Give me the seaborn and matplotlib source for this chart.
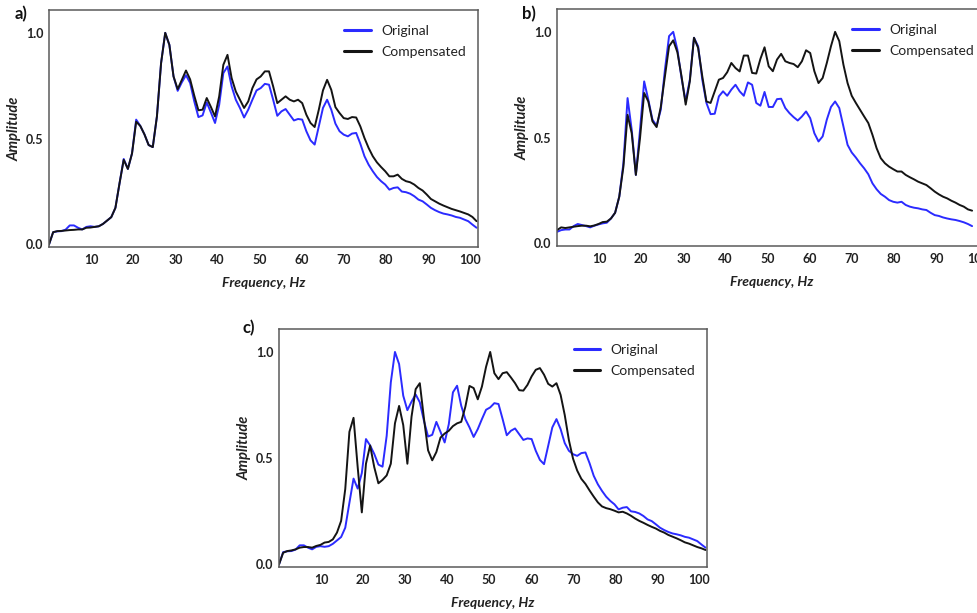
import numpy as np
import pandas as pd
import matplotlib
matplotlib.use("Agg")
import matplotlib.pyplot as plt
import seaborn as sns

# Spacing between spectrum bins, Hz
FREQ_STEP = 0.985

# Panel a: original and compensated amplitude spectra
orig_a = [0.0, 0.058, 0.062, 0.063, 0.07, 0.09, 0.09, 0.079, 0.071, 0.083,
          0.086, 0.083, 0.086, 0.097, 0.113, 0.129, 0.173, 0.29, 0.404, 0.357,
          0.43, 0.59, 0.56, 0.52, 0.47, 0.46, 0.605, 0.857, 1.0, 0.943,
          0.794, 0.726, 0.766, 0.80, 0.763, 0.676, 0.602, 0.61, 0.671, 0.624,
          0.574, 0.66, 0.81, 0.841, 0.747, 0.684, 0.645, 0.60, 0.637, 0.684,
          0.728, 0.739, 0.759, 0.755, 0.684, 0.608, 0.629, 0.64, 0.613, 0.586,
          0.593, 0.59, 0.535, 0.492, 0.472, 0.558, 0.645, 0.684, 0.637, 0.571,
          0.535, 0.519, 0.511, 0.524, 0.527, 0.476, 0.417, 0.377, 0.346, 0.319,
          0.299, 0.283, 0.259, 0.267, 0.27, 0.25, 0.247, 0.24, 0.228, 0.212,
          0.204, 0.189, 0.173, 0.162, 0.153, 0.146, 0.142, 0.137, 0.13, 0.126,
          0.118, 0.11, 0.094, 0.079]
comp_a = [0.0, 0.058, 0.063, 0.064, 0.066, 0.068, 0.069, 0.071, 0.071, 0.079,
          0.08, 0.083, 0.086, 0.097, 0.113, 0.129, 0.173, 0.29, 0.40, 0.357,
          0.43, 0.58, 0.56, 0.52, 0.47, 0.46, 0.605, 0.857, 1.0, 0.943,
          0.794, 0.734, 0.778, 0.822, 0.78, 0.703, 0.634, 0.637, 0.692, 0.65,
          0.605, 0.70, 0.849, 0.896, 0.786, 0.723, 0.684, 0.645, 0.676, 0.739,
          0.78, 0.794, 0.818, 0.818, 0.747, 0.668, 0.684, 0.70, 0.684, 0.676,
          0.684, 0.668, 0.613, 0.574, 0.555, 0.637, 0.728, 0.778, 0.731, 0.649,
          0.621, 0.597, 0.593, 0.602, 0.60, 0.558, 0.503, 0.456, 0.417, 0.388,
          0.366, 0.346, 0.322, 0.322, 0.33, 0.31, 0.299, 0.294, 0.283, 0.267,
          0.255, 0.236, 0.215, 0.204, 0.193, 0.184, 0.176, 0.168, 0.162, 0.156,
          0.149, 0.142, 0.13, 0.11]

# Panel b
orig_b = [0.055, 0.063, 0.066, 0.066, 0.082, 0.092, 0.087, 0.082, 0.076, 0.084,
          0.09, 0.095, 0.098, 0.118, 0.145, 0.221, 0.379, 0.687, 0.537, 0.324,
          0.537, 0.766, 0.679, 0.585, 0.556, 0.632, 0.821, 0.98, 1.0, 0.916,
          0.782, 0.671, 0.774, 0.972, 0.932, 0.774, 0.664, 0.611, 0.613, 0.695,
          0.719, 0.698, 0.727, 0.75, 0.719, 0.698, 0.761, 0.75, 0.664, 0.651,
          0.716, 0.645, 0.645, 0.682, 0.684, 0.64, 0.616, 0.597, 0.581, 0.60,
          0.624, 0.592, 0.521, 0.482, 0.506, 0.585, 0.645, 0.671, 0.64, 0.553,
          0.466, 0.43, 0.406, 0.379, 0.355, 0.327, 0.284, 0.256, 0.234, 0.221,
          0.205, 0.197, 0.193, 0.197, 0.182, 0.174, 0.169, 0.166, 0.161, 0.158,
          0.145, 0.134, 0.13, 0.123, 0.118, 0.114, 0.111, 0.106, 0.10, 0.092,
          0.082]
comp_b = [0.063, 0.076, 0.073, 0.076, 0.079, 0.082, 0.084, 0.084, 0.081, 0.085,
          0.092, 0.101, 0.103, 0.118, 0.145, 0.221, 0.363, 0.608, 0.521, 0.324,
          0.498, 0.711, 0.671, 0.577, 0.55, 0.645, 0.79, 0.932, 0.96, 0.904,
          0.79, 0.656, 0.766, 0.972, 0.924, 0.79, 0.671, 0.664, 0.719, 0.774,
          0.782, 0.809, 0.853, 0.829, 0.813, 0.888, 0.888, 0.806, 0.803, 0.872,
          0.927, 0.837, 0.814, 0.869, 0.896, 0.861, 0.853, 0.848, 0.833, 0.861,
          0.913, 0.90, 0.814, 0.758, 0.782, 0.853, 0.932, 1.0, 0.956, 0.845,
          0.758, 0.698, 0.664, 0.632, 0.60, 0.569, 0.513, 0.45, 0.403, 0.379,
          0.363, 0.351, 0.34, 0.34, 0.324, 0.313, 0.303, 0.292, 0.284, 0.276,
          0.261, 0.245, 0.232, 0.221, 0.213, 0.202, 0.193, 0.182, 0.174, 0.161,
          0.155]

# Panel c: same original record, different compensation
orig_c = orig_a
comp_c = [0.0, 0.055, 0.063, 0.066, 0.071, 0.079, 0.082, 0.082, 0.079, 0.087,
          0.092, 0.103, 0.106, 0.118, 0.15, 0.205, 0.355, 0.624, 0.69, 0.458,
          0.245, 0.474, 0.56, 0.458, 0.382, 0.398, 0.419, 0.474, 0.664, 0.746,
          0.656, 0.474, 0.695, 0.825, 0.853, 0.687, 0.537, 0.49, 0.529, 0.597,
          0.616, 0.629, 0.651, 0.664, 0.671, 0.742, 0.84, 0.83, 0.777, 0.837,
          0.93, 1.0, 0.90, 0.872, 0.90, 0.905, 0.88, 0.853, 0.82, 0.818,
          0.845, 0.885, 0.916, 0.924, 0.893, 0.85, 0.837, 0.853, 0.798, 0.703,
          0.585, 0.498, 0.442, 0.403, 0.379, 0.348, 0.319, 0.292, 0.273, 0.265,
          0.26, 0.253, 0.245, 0.248, 0.24, 0.229, 0.216, 0.205, 0.196, 0.186,
          0.177, 0.169, 0.158, 0.15, 0.139, 0.131, 0.123, 0.114, 0.104, 0.098,
          0.09, 0.082, 0.076, 0.068]

series_labels = ["Original", "Compensated"]
panel_labels = ["a)", "b)", "c)"]
x_ticks = [10, 20, 30, 40, 50, 60, 70, 80, 90, 100]
y_ticks = [0.0, 0.5, 1.0]
y_tick_labels = ["0.0", "0.5", "1.0"]

sns.set_theme(style="white")
plt.rcParams["font.family"] = ["Lato", "DejaVu Sans"]

palette = {"Original": "#2b2bff", "Compensated": "#141414"}


def spectrum_frame(original, compensated):
    n = len(original)
    freq = np.arange(n) * FREQ_STEP
    return pd.DataFrame({
        "Frequency": np.concatenate([freq, freq]),
        "Amplitude": np.concatenate([original, compensated]),
        "Trace": [series_labels[0]] * n + [series_labels[1]] * n,
    })


W, H = 977, 613
fig = plt.figure(figsize=(W / 100, H / 100), dpi=100)
fig.patch.set_facecolor("white")


def px_axes(left, top, right, bottom):
    return fig.add_axes([left / W, 1 - bottom / H, (right - left) / W, (bottom - top) / H])


panels = [
    (orig_a, comp_a, (49, 10, 478, 247), (21.5, 14)),
    (orig_b, comp_b, (557, 9, 986, 246), (528.5, 14)),
    (orig_c, comp_c, (279, 329, 707, 567), (249, 328)),
]

for (orig, comp, box, lab_pos), tag in zip(panels, panel_labels):
    ax = px_axes(*box)
    df = spectrum_frame(orig, comp)
    sns.lineplot(data=df, x="Frequency", y="Amplitude", hue="Trace",
                 hue_order=series_labels, palette=palette, estimator=None,
                 linewidth=1.4, ax=ax)
    ax.set_xlim(0, 101.8)
    ax.set_ylim(-0.012, 1.108)
    ax.set_xticks(x_ticks, [str(t) for t in x_ticks], fontweight="bold")
    ax.set_yticks(y_ticks, y_tick_labels, fontweight="bold")
    ax.tick_params(axis="both", length=0, labelsize=9, colors="#222222")
    ax.tick_params(axis="x", pad=5)
    ax.tick_params(axis="y", pad=4)
    ax.set_xlabel("Frequency, Hz", fontstyle="italic", fontweight="bold",
                  fontsize=10, labelpad=8, color="#222222")
    ax.set_ylabel("Amplitude", fontstyle="italic", fontweight="bold",
                  fontsize=10.5, labelpad=3, color="#222222")
    for spine in ax.spines.values():
        spine.set_color("#5a5a5a")
        spine.set_linewidth(1.1)
    leg = ax.legend(frameon=False, loc="upper left",
                    bbox_to_anchor=(0.672, 0.965), borderpad=0,
                    handlelength=1.9, handletextpad=0.75, labelspacing=0.65,
                    fontsize=10)
    for line in leg.get_lines():
        line.set_linewidth(2.2)
    for txt in leg.get_texts():
        txt.set_color("#222222")
    fig.text(lab_pos[0] / W, 1 - lab_pos[1] / H, tag, fontsize=12,
             fontweight="bold", ha="center", va="center", color="#111111")

fig.savefig("out.png", dpi=100, facecolor="white")
